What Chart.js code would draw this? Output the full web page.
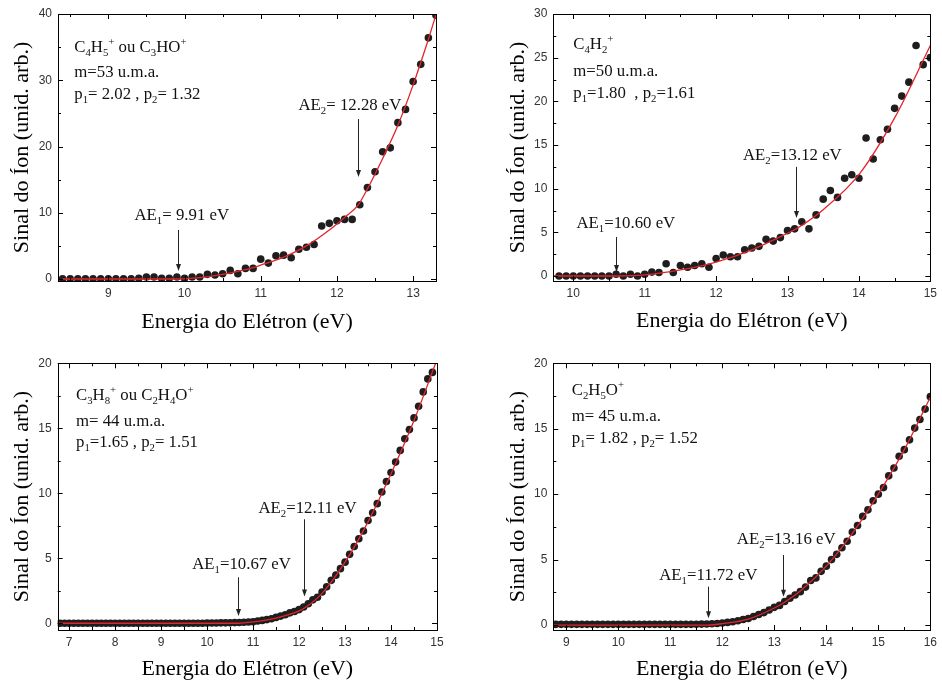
<!DOCTYPE html>
<html><head><meta charset="utf-8">
<script src="https://cdn.jsdelivr.net/npm/chart.js@4.4.1/dist/chart.umd.min.js"></script>
<style>
html,body{margin:0;padding:0;background:#fff}
body{width:942px;height:683px;position:relative;overflow:hidden}
canvas{position:absolute}
</style></head>
<body>
<canvas id="c1" width="471" height="341" style="left:0;top:0"></canvas>
<canvas id="c2" width="471" height="341" style="left:471px;top:0"></canvas>
<canvas id="c3" width="471" height="342" style="left:0;top:341px"></canvas>
<canvas id="c4" width="471" height="342" style="left:471px;top:341px"></canvas>
<script>
// ---------- Panel 1: C4H5+ ou C3HO+ (m=53) ----------
const energy1 = [8.4,8.5,8.6,8.7,8.8,8.9,9.0,9.1,9.2,9.3,9.4,9.5,9.6,9.7,9.8,9.9,10.0,10.1,10.2,10.3,10.4,10.5,10.6,10.7,10.8,10.9,11.0,11.1,11.2,11.3,11.4,11.5,11.6,11.7,11.8,11.9,12.0,12.1,12.2,12.3,12.4,12.5,12.6,12.7,12.8,12.9,13.0,13.1,13.2,13.3];
const signal1 = [0.05,0.05,0.05,0.05,0.05,0.05,0.05,0.05,0.05,0.05,0.1,0.3,0.3,0.1,0.1,0.3,0.1,0.3,0.3,0.7,0.6,0.8,1.3,0.8,1.6,1.6,3.0,2.4,3.5,3.6,3.2,4.5,4.8,5.2,8.0,8.4,8.8,9.0,9.0,11.2,13.8,16.2,19.2,19.8,23.6,25.6,29.8,32.4,36.4,39.8];
const fitEnergy1 = [8.4,9.91,10.2,10.5,10.8,11.0,11.3,11.6,11.9,12.1,12.28,12.4,12.6,12.8,13.0,13.2,13.3];
const fitSignal1 = [0,0,0.2,0.7,1.4,2.1,3.3,5.0,7.4,9.3,11.2,13.6,18.2,23.2,29.3,36.2,39.9];
const xTicks1 = [9,10,11,12,13];
const yTicks1 = [0,10,20,30,40];

// ---------- Panel 2: C4H2+ (m=50) ----------
const energy2 = [9.8,9.9,10.0,10.1,10.2,10.3,10.4,10.5,10.6,10.7,10.8,10.9,11.0,11.1,11.2,11.3,11.4,11.5,11.6,11.7,11.8,11.9,12.0,12.1,12.2,12.3,12.4,12.5,12.6,12.7,12.8,12.9,13.0,13.1,13.2,13.3,13.4,13.5,13.6,13.7,13.8,13.9,14.0,14.1,14.2,14.3,14.4,14.5,14.6,14.7,14.8,14.9,15.0];
const signal2 = [0,0,0,0,0,0,0,0,0.2,0,0.2,0,0.2,0.45,0.4,1.4,0.4,1.2,1.0,1.2,1.4,1.0,2.0,2.4,2.2,2.2,3.0,3.2,3.4,4.2,4.0,4.4,5.2,5.4,6.2,5.4,7.0,8.8,9.8,9.0,11.2,11.6,11.2,15.8,13.4,15.6,16.8,19.2,20.6,22.2,26.4,24.2,25.0];
const fitEnergy2 = [9.72,10.6,11.0,11.5,12.0,12.5,13.0,13.12,13.5,14.0,14.5,15.0];
const fitSignal2 = [0,0,0.12,0.7,1.6,3.0,4.9,5.4,7.6,11.6,18.1,26.4];
const xTicks2 = [10,11,12,13,14,15];
const yTicks2 = [0,5,10,15,20,25,30];

// ---------- Panel 3: C3H8+ ou C2H4O+ (m=44) ----------
const energy3 = [6.8,6.9,7.0,7.1,7.2,7.3,7.4,7.5,7.6,7.7,7.8,7.9,8.0,8.1,8.2,8.3,8.4,8.5,8.6,8.7,8.8,8.9,9.0,9.1,9.2,9.3,9.4,9.5,9.6,9.7,9.8,9.9,10.0,10.1,10.2,10.3,10.4,10.5,10.6,10.7,10.8,10.9,11.0,11.1,11.2,11.3,11.4,11.5,11.6,11.7,11.8,11.9,12.0,12.1,12.2,12.3,12.4,12.5,12.6,12.7,12.8,12.9,13.0,13.1,13.2,13.3,13.4,13.5,13.6,13.7,13.8,13.9,14.0,14.1,14.2,14.3,14.4,14.5,14.6,14.7,14.8,14.9];
const signal3 = [0,0,0,0,0,0,0,0,0,0,0,0,0,0,0,0,0,0,0,0,0,0,0,0,0,0,0,0,0,0,0,0,0.02,0.02,0.02,0.03,0.03,0.04,0.05,0.06,0.08,0.1,0.12,0.17,0.22,0.28,0.35,0.45,0.55,0.65,0.8,0.9,1.05,1.25,1.5,1.8,2.0,2.4,2.8,3.3,3.7,4.2,4.7,5.3,5.9,6.5,7.1,7.9,8.5,9.2,10.1,10.9,11.6,12.4,13.3,14.2,14.9,15.8,16.7,17.8,18.8,19.3];
const fitEnergy3 = [6.75,10.67,11.0,11.5,12.0,12.11,12.5,13.0,13.5,14.0,14.5,14.97];
const fitSignal3 = [0,0,0.1,0.4,0.95,1.15,2.3,4.7,7.8,11.5,15.6,20.0];
const xTicks3 = [7,8,9,10,11,12,13,14,15];
const yTicks3 = [0,5,10,15,20];

// ---------- Panel 4: C2H5O+ (m=45) ----------
const energy4 = [8.8,8.9,9.0,9.1,9.2,9.3,9.4,9.5,9.6,9.7,9.8,9.9,10.0,10.1,10.2,10.3,10.4,10.5,10.6,10.7,10.8,10.9,11.0,11.1,11.2,11.3,11.4,11.5,11.6,11.7,11.8,11.9,12.0,12.1,12.2,12.3,12.4,12.5,12.6,12.7,12.8,12.9,13.0,13.1,13.2,13.3,13.4,13.5,13.6,13.7,13.8,13.9,14.0,14.1,14.2,14.3,14.4,14.5,14.6,14.7,14.8,14.9,15.0,15.1,15.2,15.3,15.4,15.5,15.6,15.7,15.8,15.9,16.0];
const signal4 = [0.05,0.05,0.05,0.05,0.05,0.05,0.05,0.05,0.05,0.05,0.05,0.05,0.05,0.05,0.05,0.05,0.05,0.05,0.05,0.05,0.05,0.05,0.05,0.05,0.05,0.05,0.05,0.06,0.07,0.08,0.1,0.12,0.15,0.2,0.25,0.33,0.42,0.5,0.65,0.8,0.95,1.15,1.35,1.5,1.8,2.05,2.3,2.55,2.9,3.4,3.6,4.1,4.5,5.0,5.4,5.9,6.4,7.1,7.6,8.3,8.8,9.5,10.0,10.5,11.4,12.0,12.9,13.4,14.15,15.05,15.7,16.5,17.45];
const fitEnergy4 = [8.75,11.72,12.0,12.5,13.0,13.16,13.5,14.0,14.5,15.0,15.5,16.0];
const fitSignal4 = [0,0,0.1,0.45,1.3,1.65,2.6,4.5,7.0,10.0,13.4,17.4];
const xTicks4 = [9,10,11,12,13,14,15,16];
const yTicks4 = [0,5,10,15,20];

// ---------- annotation texts ----------
const info1 = ['C_4H_5^+ ou C_3HO^+', 'm=53 u.m.a.', 'p_1= 2.02 , p_2= 1.32'];
const info2 = ['C_4H_2^+', 'm=50 u.m.a.', 'p_1=1.80  , p_2=1.61'];
const info3 = ['C_3H_8^+ ou C_2H_4O^+', 'm= 44 u.m.a.', 'p_1=1.65 , p_2= 1.51'];
const info4 = ['C_2H_5O^+', 'm= 45 u.m.a.', 'p_1= 1.82 , p_2= 1.52'];
const ae1 = [9.91, 12.28];
const ae2 = [10.60, 13.12];
const ae3 = [10.67, 12.11];
const ae4 = [11.72, 13.16];
const aeLabels1 = ['AE_1= 9.91 eV', 'AE_2= 12.28 eV'];
const aeLabels2 = ['AE_1=10.60 eV', 'AE_2=13.12 eV'];
const aeLabels3 = ['AE_1=10.67 eV', 'AE_2=12.11 eV'];
const aeLabels4 = ['AE_1=11.72 eV', 'AE_2=13.16 eV'];

const SERIF = '"Liberation Serif", "Times New Roman", serif';
const SANS = '"Liberation Sans", Arial, sans-serif';
const ANN = 16.8;

function drawRich(ctx, str, x, y, size) {
  let segs = [], i = 0;
  while (i < str.length) {
    let ch = str[i], mode = 'n';
    if ((ch === '_' || ch === '^') && i + 1 < str.length) { mode = ch === '_' ? 'sub' : 'sup'; ch = str[i + 1]; i += 2; }
    else i++;
    if (segs.length && segs[segs.length - 1].mode === mode) segs[segs.length - 1].t += ch;
    else segs.push({ t: ch, mode });
  }
  ctx.textAlign = 'left'; ctx.textBaseline = 'alphabetic';
  for (const s of segs) {
    const fs = s.mode === 'n' ? size : size * 0.64;
    ctx.font = fs + 'px ' + SERIF;
    const dy = s.mode === 'sub' ? size * 0.24 : s.mode === 'sup' ? -size * 0.42 : 0;
    ctx.fillText(s.t, x, y + dy);
    x += ctx.measureText(s.t).width;
  }
}

const decorPlugin = {
  id: 'decor',
  afterDraw(chart, args, o) {
    const { ctx, chartArea: a, scales: { x, y } } = chart;
    ctx.save();
    ctx.strokeStyle = '#000'; ctx.lineWidth = 1;
    ctx.strokeRect(Math.round(a.left) + 0.5, Math.round(a.top) + 0.5, Math.round(a.right - a.left), Math.round(a.bottom - a.top));
    // ticks (inward, all four sides)
    const mk = (scale, majors, minorStep, horiz) => {
      const list = [];
      for (let v = Math.ceil(scale.min / minorStep) * minorStep; v <= scale.max + 1e-9; v += minorStep) {
        const isMajor = majors.some(m => Math.abs(m - v) < 1e-6);
        list.push([scale.getPixelForValue(v), isMajor ? 5 : 3]);
      }
      ctx.beginPath();
      for (const [p, len] of list) {
        const pp = Math.round(p) + 0.5;
        if (horiz) {
          ctx.moveTo(pp, a.bottom); ctx.lineTo(pp, a.bottom - len);
          ctx.moveTo(pp, a.top); ctx.lineTo(pp, a.top + len);
        } else {
          ctx.moveTo(a.left, pp); ctx.lineTo(a.left + len, pp);
          ctx.moveTo(a.right, pp); ctx.lineTo(a.right - len, pp);
        }
      }
      ctx.stroke();
    };
    mk(x, o.xTicks, o.xMinor, true);
    mk(y, o.yTicks, o.yMinor, false);
    // info texts
    ctx.fillStyle = '#111';
    o.info.forEach((t, i) => drawRich(ctx, t, a.left + o.infoDx, a.top + o.infoDy[i], ANN));
    // arrows + labels
    o.arrows.forEach(ar => {
      const px = Math.round(x.getPixelForValue(ar.x)) + 0.5;
      const y1 = y.getPixelForValue(ar.yFrom), y2 = y.getPixelForValue(ar.yTo);
      ctx.strokeStyle = '#222'; ctx.fillStyle = '#222'; ctx.lineWidth = 1;
      ctx.beginPath(); ctx.moveTo(px, y1); ctx.lineTo(px, y2 - 6); ctx.stroke();
      ctx.beginPath(); ctx.moveTo(px - 2.5, y2 - 7); ctx.lineTo(px + 2.5, y2 - 7); ctx.lineTo(px, y2); ctx.closePath(); ctx.fill();
      ctx.fillStyle = '#111';
      drawRich(ctx, ar.label, px + ar.dx, y.getPixelForValue(ar.yLabel), ANN);
    });
    ctx.restore();
  }
};

function makeChart(id, p) {
  const pts = p.E.map((e, i) => ({ x: e, y: p.S[i] }));
  const fit = p.fE.map((e, i) => ({ x: e, y: p.fS[i] }));
  return new Chart(document.getElementById(id), {
    type: 'scatter',
    data: {
      datasets: [
        { type: 'line', data: fit, borderColor: '#e3242b', borderWidth: 1.3, pointRadius: 0, cubicInterpolationMode: 'monotone', fill: false, order: 0, clip: 0 },
        { type: 'scatter', data: pts, pointRadius: 3.8, pointBackgroundColor: '#1e1e1e', pointBorderWidth: 0, order: 1, clip: 0 }
      ]
    },
    options: {
      responsive: false, animation: false, events: [],
      layout: { padding: p.pad },
      plugins: {
        legend: { display: false }, tooltip: { enabled: false },
        decor: { xTicks: p.xT, yTicks: p.yT, xMinor: p.xMinor, yMinor: p.yMinor, info: p.info, infoDx: p.infoDx, infoDy: p.infoDy, arrows: p.arrows }
      },
      scales: {
        x: {
          type: 'linear', min: p.xMin, max: p.xMax,
          afterBuildTicks: s => { s.ticks = p.xT.map(v => ({ value: v })); },
          afterFit: s => { s.height = p.xH; },
          grid: { display: false, drawTicks: false }, border: { display: false },
          ticks: { font: { family: SANS, size: 12 }, color: '#333', padding: 5, maxRotation: 0, autoSkip: false },
          title: { display: true, text: 'Energia do Elétron (eV)', color: '#000', font: { family: SERIF, size: 22 }, padding: { top: 0, bottom: p.xtPad } }
        },
        y: {
          type: 'linear', min: p.yMin, max: p.yMax,
          afterBuildTicks: s => { s.ticks = p.yT.map(v => ({ value: v })); },
          afterFit: s => { s.width = p.yW; },
          grid: { display: false, drawTicks: false }, border: { display: false },
          ticks: { font: { family: SANS, size: 12 }, color: '#333', padding: 6, autoSkip: false },
          title: { display: true, text: 'Sinal do Íon (unid. arb.)', color: '#000', font: { family: SERIF, size: 22 }, padding: { top: p.ytPad, bottom: 0 } }
        }
      }
    },
    plugins: [decorPlugin]
  });
}

makeChart('c1', {
  E: energy1, S: signal1, fE: fitEnergy1, fS: fitSignal1, xT: xTicks1, yT: yTicks1,
  xMin: 8.34, xMax: 13.3, yMin: -0.3, yMax: 40, xMinor: 0.5, yMinor: 5,
  pad: { left: 0, top: 14, right: 35, bottom: 0 }, xH: 60, yW: 58, xtPad: 6, ytPad: 8.8,
  info: info1, infoDx: 16.3, infoDy: [38, 63, 85],
  arrows: [
    { x: ae1[0], yFrom: 7.4, yTo: 1.2, yLabel: 8.9, dx: -44, label: aeLabels1[0] },
    { x: ae1[1], yFrom: 24.15, yTo: 15.4, yLabel: 25.5, dx: -60, label: aeLabels1[1] }
  ]
});
makeChart('c2', {
  E: energy2, S: signal2, fE: fitEnergy2, fS: fitSignal2, xT: xTicks2, yT: yTicks2,
  xMin: 9.72, xMax: 15, yMin: -0.57, yMax: 30, xMinor: 0.5, yMinor: 2.5,
  pad: { left: 0, top: 14, right: 9.3, bottom: 0 }, xH: 60, yW: 82.3, xtPad: 7, ytPad: 34.1,
  info: info2, infoDx: 20, infoDy: [35.3, 62, 84.3],
  arrows: [
    { x: ae2[0], yFrom: 4.47, yTo: 0.46, yLabel: 5.5, dx: -40, label: aeLabels2[0] },
    { x: ae2[1], yFrom: 12.5, yTo: 6.65, yLabel: 13.3, dx: -53.5, label: aeLabels2[1] }
  ]
});
makeChart('c3', {
  E: energy3, S: signal3, fE: fitEnergy3, fS: fitSignal3, xT: xTicks3, yT: yTicks3,
  xMin: 6.75, xMax: 15, yMin: -0.52, yMax: 20, xMinor: 0.5, yMinor: 2.5,
  pad: { left: 0, top: 22.3, right: 34, bottom: 0 }, xH: 53, yW: 57.7, xtPad: 0.8, ytPad: 8.8,
  info: info3, infoDx: 18.3, infoDy: [36.7, 62.4, 84],
  arrows: [
    { x: ae3[0], yFrom: 3.54, yTo: 0.56, yLabel: 4.15, dx: -46.3, label: aeLabels3[0] },
    { x: ae3[1], yFrom: 8.0, yTo: 2.05, yLabel: 8.46, dx: -46, label: aeLabels3[1] }
  ]
});
makeChart('c4', {
  E: energy4, S: signal4, fE: fitEnergy4, fS: fitSignal4, xT: xTicks4, yT: yTicks4,
  xMin: 8.75, xMax: 16, yMin: -0.38, yMax: 20, xMinor: 0.5, yMinor: 2.5,
  pad: { left: 0, top: 22.3, right: 8.7, bottom: 0 }, xH: 53, yW: 82.3, xtPad: 0.8, ytPad: 34.1,
  info: info4, infoDx: 18.4, infoDy: [31.7, 57.7, 79.4],
  arrows: [
    { x: ae4[0], yFrom: 2.93, yTo: 0.51, yLabel: 3.44, dx: -49.3, label: aeLabels4[0] },
    { x: ae4[1], yFrom: 5.35, yTo: 2.16, yLabel: 6.17, dx: -46.7, label: aeLabels4[1] }
  ]
});
</script>
</body></html>
